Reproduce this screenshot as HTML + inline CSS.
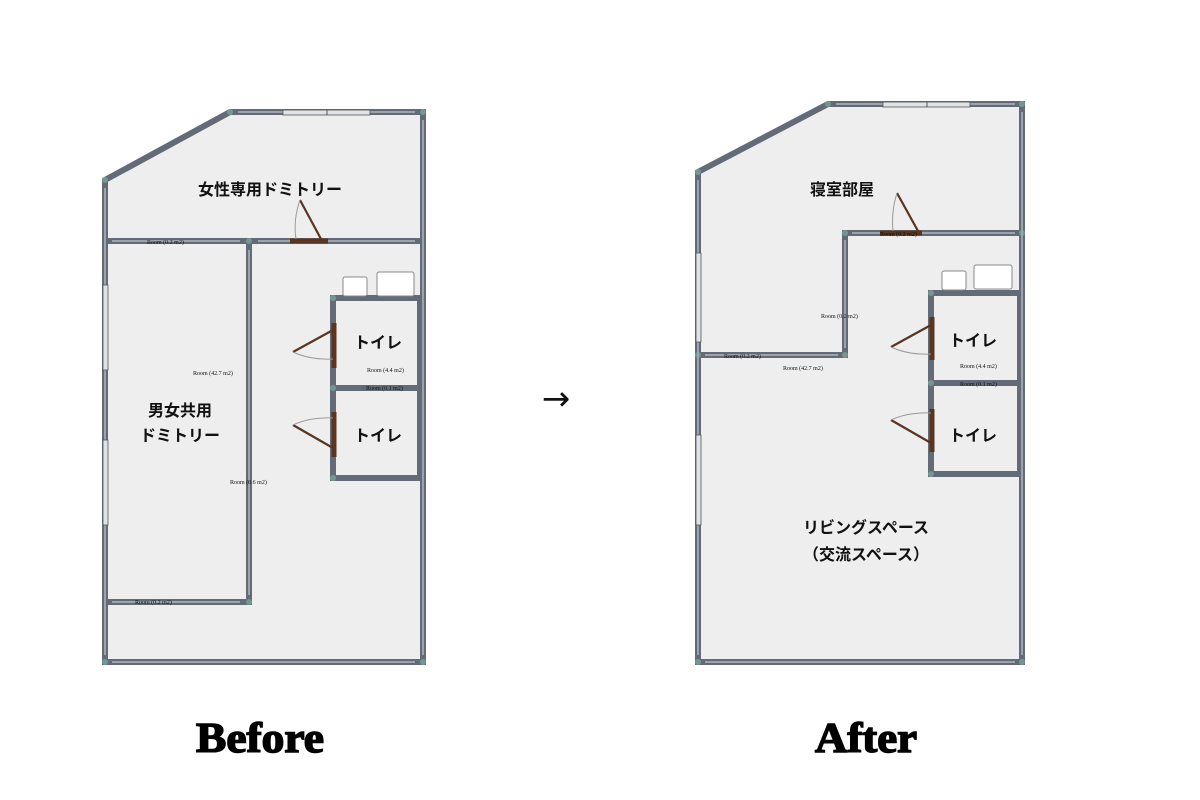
<!DOCTYPE html>
<html><head><meta charset="utf-8"><style>
html,body{margin:0;padding:0;background:#fff;width:1200px;height:800px;overflow:hidden}
svg text{font-family:"Liberation Sans","Noto Sans CJK JP",sans-serif}
.w{stroke:#646b78;stroke-width:6;fill:none;stroke-linejoin:miter}
.wl{stroke:#f4f4f4;stroke-width:1;fill:none;opacity:.8}
.d{stroke:#5a3520;stroke-width:5}
.dl{stroke:#5a3520;stroke-width:2.2}
.arc{stroke:#999;stroke-width:1;fill:none}
.win{fill:#dfe3e8;stroke:#555;stroke-width:0.8}
.fx{fill:#fff;stroke:#888;stroke-width:1}
.s{font-family:"Liberation Serif",serif;font-size:6px;fill:#111}
.j{font-size:16px;font-weight:bold;fill:#111}
.n{fill:#7fb5a0;opacity:.6}
</style></head><body>
<svg width="1200" height="800" viewBox="0 0 1200 800">
<!-- LEFT PLAN -->
<polygon points="105,180 230,112 423,112 423,662 105,662" fill="#eeeeee"/>
<polygon class="w" points="105,180 230,112 423,112 423,662 105,662"/>
<polyline class="w" points="105,241 423,241"/>
<polyline class="w" points="249,241 249,602 105,602"/>
<rect class="w" x="333" y="298" width="87" height="180"/>
<line class="w" x1="333" y1="388" x2="420" y2="388"/>
<line class="wl" x1="112" y1="241" x2="240" y2="241"/><line class="wl" x1="258" y1="241" x2="415" y2="241"/>
<line class="wl" x1="249" y1="250" x2="249" y2="595"/><line class="wl" x1="112" y1="602" x2="240" y2="602"/>
<line class="wl" x1="112" y1="662" x2="415" y2="662"/><line class="wl" x1="423" y1="120" x2="423" y2="655"/>
<line class="wl" x1="105" y1="188" x2="105" y2="655"/><line class="wl" x1="238" y1="112" x2="415" y2="112"/>
<rect class="win" x="283" y="110" width="87" height="5"/><line x1="327" y1="110" x2="327" y2="115" stroke="#555"/>
<rect class="win" x="103" y="285" width="5" height="85"/><rect class="win" x="103" y="440" width="5" height="85"/>
<line class="d" x1="290" y1="241" x2="328" y2="241"/>
<line class="dl" x1="321" y1="239" x2="300" y2="200"/><path class="arc" d="M300,200 Q293,220 296,239"/>
<line class="d" x1="334" y1="323" x2="334" y2="368"/>
<line class="dl" x1="333" y1="330" x2="293" y2="352"/><path class="arc" d="M293,352 Q310,360 333,359"/>
<line class="d" x1="334" y1="412" x2="334" y2="457"/>
<line class="dl" x1="333" y1="448" x2="293" y2="425"/><path class="arc" d="M293,425 Q310,417 333,418"/>
<rect class="fx" x="343" y="277" width="24" height="19" rx="2"/><rect class="fx" x="377" y="272" width="37" height="24" rx="2"/>
<circle class="n" cx="105" cy="180" r="3"/><circle class="n" cx="230" cy="112" r="3"/><circle class="n" cx="423" cy="112" r="3"/>
<circle class="n" cx="105" cy="662" r="3"/><circle class="n" cx="423" cy="662" r="3"/><circle class="n" cx="249" cy="241" r="3"/>
<circle class="n" cx="249" cy="602" r="3"/><circle class="n" cx="333" cy="298" r="3"/><circle class="n" cx="333" cy="478" r="3"/><circle class="n" cx="333" cy="388" r="3"/>
<text class="j" x="270" y="195" text-anchor="middle">女性専用ドミトリー</text>
<text class="j" x="180" y="416" text-anchor="middle">男女共用</text>
<text class="j" x="180" y="441" text-anchor="middle">ドミトリー</text>
<text class="j" x="378" y="348" text-anchor="middle">トイレ</text>
<text class="j" x="378" y="441" text-anchor="middle">トイレ</text>
<text class="s" x="147" y="244">Room (0.2 m2)</text>
<text class="s" x="193" y="375">Room (42.7 m2)</text>
<text class="s" x="230" y="484">Room (0.6 m2)</text>
<text class="s" x="135" y="604">Room (0.2 m2)</text>
<text class="s" x="367" y="372">Room (4.4 m2)</text>
<text class="s" x="366" y="390">Room (0.1 m2)</text>

<!-- RIGHT PLAN -->
<polygon points="698,172 828,104 1022,104 1022,662 698,662" fill="#eeeeee"/>
<polygon class="w" points="698,172 828,104 1022,104 1022,662 698,662"/>
<polyline class="w" points="1022,233 845,233 845,355 698,355"/>
<rect class="w" x="931" y="293" width="89" height="181"/>
<line class="w" x1="931" y1="383" x2="1020" y2="383"/>
<line class="wl" x1="705" y1="662" x2="1015" y2="662"/><line class="wl" x1="1022" y1="112" x2="1022" y2="655"/>
<line class="wl" x1="698" y1="180" x2="698" y2="655"/><line class="wl" x1="836" y1="104" x2="1015" y2="104"/>
<line class="wl" x1="852" y1="233" x2="1015" y2="233"/><line class="wl" x1="845" y1="240" x2="845" y2="348"/>
<line class="wl" x1="705" y1="355" x2="838" y2="355"/>
<rect class="win" x="883" y="102" width="87" height="5"/><line x1="927" y1="102" x2="927" y2="107" stroke="#555"/>
<rect class="win" x="696" y="253" width="5" height="89"/><rect class="win" x="696" y="435" width="5" height="90"/>
<line class="d" x1="880" y1="233" x2="922" y2="233"/>
<line class="dl" x1="918" y1="231" x2="897" y2="193"/><path class="arc" d="M897,193 Q891,212 893,231"/>
<line class="d" x1="932" y1="317" x2="932" y2="360"/>
<line class="dl" x1="931" y1="325" x2="891" y2="347"/><path class="arc" d="M891,347 Q908,355 931,354"/>
<line class="d" x1="932" y1="409" x2="932" y2="452"/>
<line class="dl" x1="931" y1="443" x2="891" y2="420"/><path class="arc" d="M891,420 Q908,412 931,413"/>
<rect class="fx" x="942" y="271" width="24" height="19" rx="2"/><rect class="fx" x="974" y="265" width="38" height="24" rx="2"/>
<circle class="n" cx="698" cy="172" r="3"/><circle class="n" cx="828" cy="104" r="3"/><circle class="n" cx="1022" cy="104" r="3"/>
<circle class="n" cx="698" cy="662" r="3"/><circle class="n" cx="1022" cy="662" r="3"/><circle class="n" cx="845" cy="233" r="3"/>
<circle class="n" cx="845" cy="355" r="3"/><circle class="n" cx="698" cy="355" r="3"/><circle class="n" cx="1022" cy="233" r="3"/>
<circle class="n" cx="931" cy="293" r="3"/><circle class="n" cx="931" cy="474" r="3"/><circle class="n" cx="931" cy="383" r="3"/>
<text class="j" x="842" y="195" text-anchor="middle">寝室部屋</text>
<text class="j" x="973" y="346" text-anchor="middle">トイレ</text>
<text class="j" x="973" y="441" text-anchor="middle">トイレ</text>
<text class="j" x="866" y="533" text-anchor="middle">リビングスペース</text>
<text class="j" x="866" y="560" text-anchor="middle">（交流スペース）</text>
<text class="s" x="880" y="236">Room (0.2 m2)</text>
<text class="s" x="821" y="318">Room (0.2 m2)</text>
<text class="s" x="724" y="358">Room (0.2 m2)</text>
<text class="s" x="783" y="370">Room (42.7 m2)</text>
<text class="s" x="960" y="368">Room (4.4 m2)</text>
<text class="s" x="960" y="386">Room (0.1 m2)</text>

<text x="556" y="410" text-anchor="middle" style="font-family:'DejaVu Sans',sans-serif;font-size:34px;fill:#111">→</text>
<text x="260" y="752" text-anchor="middle" style="font-family:'Liberation Serif',serif;font-weight:bold;font-size:42px;fill:#000;stroke:#000;stroke-width:1.5" textLength="128" lengthAdjust="spacingAndGlyphs">Before</text>
<text x="866" y="752" text-anchor="middle" style="font-family:'Liberation Serif',serif;font-weight:bold;font-size:42px;fill:#000;stroke:#000;stroke-width:1.5" textLength="102" lengthAdjust="spacingAndGlyphs">After</text>
</svg>
</body></html>
